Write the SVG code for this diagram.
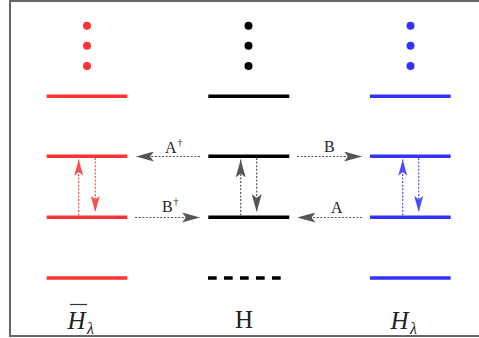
<svg xmlns="http://www.w3.org/2000/svg" width="479" height="338" viewBox="0 0 479 338">
<style>
.frame{stroke:#666;stroke-width:2;fill:none}
.lvl{stroke-width:3.6;fill:none}
.red{stroke:#ff3333}
.blk{stroke:#000}
.blu{stroke:#3333ff}
.dr{fill:#ff3333}
.db{fill:#000}
.du{fill:#3333ff}
.hc{stroke:#555;stroke-width:1.2;stroke-dasharray:2 1.6;fill:none}
.vr{stroke:#ff4d4d;stroke-width:1.2;stroke-dasharray:2 1.6;fill:none}
.vk{stroke:#555;stroke-width:1.2;stroke-dasharray:2 1.6;fill:none}
.vb{stroke:#4d4dff;stroke-width:1.2;stroke-dasharray:2 1.6;fill:none}
.lbl{font-family:"Liberation Serif","Times New Roman",serif;font-size:16px;fill:#222}
.sup{font-size:10px}
.big{font-family:"Liberation Serif","Times New Roman",serif;font-size:25px;fill:#222}
.it{font-style:italic}
</style>
<defs>
<marker id="ag" markerUnits="userSpaceOnUse" viewBox="0 0 18 10" markerWidth="18" markerHeight="10" refX="18" refY="5" orient="auto"><path d="M0 0 L18 5 L0 10 L4 5 Z" fill="#555"/></marker>
<marker id="ar" markerUnits="userSpaceOnUse" viewBox="0 0 18 10" markerWidth="17" markerHeight="9" refX="18" refY="5" orient="auto"><path d="M0 0 L18 5 L0 10 L4 5 Z" fill="#ff4d4d"/></marker>
<marker id="ab" markerUnits="userSpaceOnUse" viewBox="0 0 18 10" markerWidth="17" markerHeight="9" refX="18" refY="5" orient="auto"><path d="M0 0 L18 5 L0 10 L4 5 Z" fill="#4d4dff"/></marker>
</defs>
<g id="frame">
<line class="frame" x1="9" y1="1" x2="479" y2="1"/>
<line class="frame" x1="10" y1="0" x2="10" y2="337"/>
<line class="frame" x1="9" y1="336" x2="479" y2="336"/>
</g>
<g id="Hbar">
<circle class="dr" cx="87" cy="25.7" r="4"/>
<circle class="dr" cx="87" cy="45.7" r="4"/>
<circle class="dr" cx="87" cy="66" r="4"/>
<line class="lvl red" x1="46.7" y1="96.3" x2="127.3" y2="96.3"/>
<line class="lvl red" x1="46.7" y1="156.3" x2="127.3" y2="156.3"/>
<line class="lvl red" x1="46.7" y1="217.3" x2="127.3" y2="217.3"/>
<line class="lvl red" x1="46.7" y1="278" x2="127.3" y2="278"/>
<text class="big it" x="67.5" y="329">H</text>
<text class="lbl it" x="87" y="334">λ</text>
<line x1="70" y1="304.5" x2="87" y2="304.5" stroke="#333" stroke-width="1.2"/>
</g>
<g id="H">
<circle class="db" cx="248.5" cy="25.7" r="4"/>
<circle class="db" cx="248.5" cy="45.7" r="4"/>
<circle class="db" cx="248.5" cy="66" r="4"/>
<line class="lvl blk" x1="208.3" y1="96.3" x2="289.3" y2="96.3"/>
<line class="lvl blk" x1="208.3" y1="156.3" x2="289.3" y2="156.3"/>
<line class="lvl blk" x1="208.3" y1="217.3" x2="289.3" y2="217.3"/>
<line class="lvl blk" x1="208" y1="278" x2="281" y2="278" stroke-width="4" stroke-dasharray="8.7 7.3"/>
<text class="big" x="244" y="328" text-anchor="middle">H</text>
</g>
<g id="Hl">
<circle class="du" cx="410.5" cy="25.7" r="4"/>
<circle class="du" cx="410.5" cy="45.7" r="4"/>
<circle class="du" cx="410.5" cy="66" r="4"/>
<line class="lvl blu" x1="370" y1="96.3" x2="450.7" y2="96.3"/>
<line class="lvl blu" x1="370" y1="156.3" x2="450.7" y2="156.3"/>
<line class="lvl blu" x1="370" y1="217.3" x2="450.7" y2="217.3"/>
<line class="lvl blu" x1="370" y1="278" x2="450.7" y2="278"/>
<text class="big it" x="390.5" y="329">H</text>
<text class="lbl it" x="410" y="334">λ</text>
</g>
<g id="connectors">
<line class="vr" x1="78.7" y1="215.5" x2="78.7" y2="159.5" marker-end="url(#ar)"/>
<line class="vr" x1="95.3" y1="158" x2="95.3" y2="212" marker-end="url(#ar)"/>
<line class="vk" x1="240.7" y1="215.5" x2="240.7" y2="159.5" marker-end="url(#ag)"/>
<line class="vk" x1="256.7" y1="158" x2="256.7" y2="212" marker-end="url(#ag)"/>
<line class="vb" x1="402.7" y1="215.5" x2="402.7" y2="159.5" marker-end="url(#ab)"/>
<line class="vb" x1="418.7" y1="158" x2="418.7" y2="212" marker-end="url(#ab)"/>
<line class="hc" x1="200" y1="156.5" x2="136" y2="156.5" marker-end="url(#ag)"/>
<line class="hc" x1="297" y1="156.5" x2="362" y2="156.5" marker-end="url(#ag)"/>
<line class="hc" x1="135" y1="217.5" x2="200" y2="217.5" marker-end="url(#ag)"/>
<line class="hc" x1="362" y1="217.5" x2="297.5" y2="217.5" marker-end="url(#ag)"/>
<text class="lbl" x="165" y="152.5">A</text><text class="lbl sup" x="177.5" y="146">†</text>
<text class="lbl" x="324" y="152">B</text>
<text class="lbl" x="162" y="212">B</text><text class="lbl sup" x="173.5" y="205">†</text>
<text class="lbl" x="331" y="213">A</text>
</g>
</svg>
